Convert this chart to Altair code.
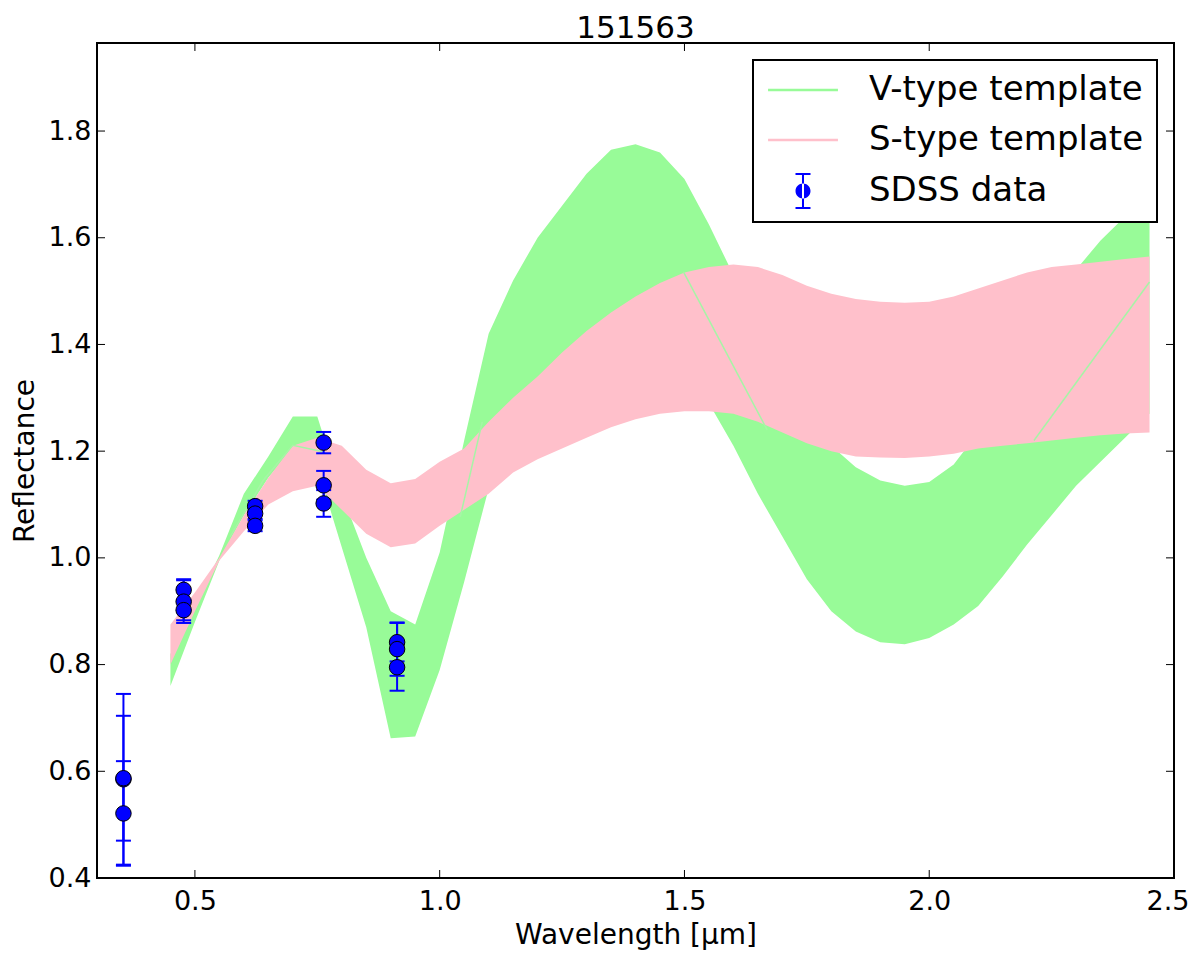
import altair as alt
import pandas as pd

# template wavelength grid [micron]
wl = [0.45, 0.50, 0.55, 0.60, 0.65, 0.70, 0.75, 0.80, 0.85, 0.90,
      0.95, 1.00, 1.05, 1.10, 1.15, 1.20, 1.25, 1.30, 1.35, 1.40,
      1.45, 1.50, 1.55, 1.60, 1.65, 1.70, 1.75, 1.80, 1.85, 1.90,
      1.95, 2.00, 2.05, 2.10, 2.15, 2.20, 2.25, 2.30, 2.35, 2.40, 2.45]

# V-type template band (lower / upper edge)
v_lo = [0.76, 0.88, 0.995, 1.08, 1.15, 1.205, 1.17, 1.02, 0.87, 0.662,
        0.665, 0.79, 0.955, 1.13, 1.20, 1.27, 1.31, 1.34, 1.36, 1.37,
        1.36, 1.33, 1.29, 1.21, 1.12, 1.04, 0.96, 0.90, 0.862, 0.842,
        0.838, 0.85, 0.875, 0.91, 0.965, 1.025, 1.08, 1.135, 1.18, 1.225, 1.27]
v_hi = [0.82, 0.91, 1.005, 1.12, 1.19, 1.265, 1.265, 1.12, 1.00, 0.90,
        0.875, 1.01, 1.22, 1.42, 1.52, 1.60, 1.66, 1.72, 1.765, 1.775,
        1.76, 1.71, 1.625, 1.53, 1.43, 1.34, 1.27, 1.21, 1.17, 1.145,
        1.135, 1.142, 1.175, 1.235, 1.30, 1.38, 1.46, 1.54, 1.595, 1.64, 1.68]

# S-type template band (lower / upper edge)
s_lo = [0.80, 0.90, 0.995, 1.05, 1.10, 1.125, 1.135, 1.09, 1.045, 1.02,
        1.027, 1.06, 1.09, 1.12, 1.16, 1.185, 1.205, 1.225, 1.245, 1.26,
        1.27, 1.275, 1.275, 1.27, 1.255, 1.235, 1.215, 1.20, 1.19, 1.188,
        1.187, 1.19, 1.195, 1.205, 1.21, 1.215, 1.22, 1.225, 1.23, 1.233, 1.235]
s_hi = [0.875, 0.935, 1.0, 1.08, 1.15, 1.21, 1.225, 1.21, 1.165, 1.14,
        1.148, 1.18, 1.205, 1.255, 1.30, 1.34, 1.385, 1.425, 1.46, 1.49,
        1.515, 1.535, 1.545, 1.55, 1.545, 1.53, 1.51, 1.495, 1.485, 1.48,
        1.478, 1.48, 1.49, 1.505, 1.52, 1.535, 1.545, 1.55, 1.555, 1.56, 1.565]

# SDSS photometry, three observations per filter
sdss_wl = [0.354, 0.354, 0.354, 0.477, 0.477, 0.477, 0.623, 0.623, 0.623,
           0.763, 0.763, 0.763, 0.913, 0.913, 0.913]
sdss_refl = [0.585, 0.587, 0.521, 0.940, 0.918, 0.902, 1.097, 1.083, 1.060,
             1.216, 1.136, 1.102, 0.842, 0.829, 0.795]
sdss_err = [0.160, 0.117, 0.098, 0.020, 0.040, 0.019, 0.010, 0.010, 0.010,
            0.020, 0.027, 0.025, 0.036, 0.050, 0.044]

# thin green seams showing through the pink band
seam_id = [1, 1, 1, 1, 2, 2, 3, 3, 4, 4]
seam_wl = [0.572, 0.64, 0.70, 0.762, 1.042, 1.087, 1.498, 1.669, 2.214, 2.45]
seam_refl = [1.04, 1.146, 1.211, 1.199, 1.077, 1.255, 1.536, 1.24, 1.22, 1.517]

x_ticks = [0.5, 1.0, 1.5, 2.0, 2.5]
y_ticks = [0.4, 0.6, 0.8, 1.0, 1.2, 1.4, 1.6, 1.8]

series = ["V-type template", "S-type template", "SDSS data"]
series_colors = ["#98fb98", "#ffc0cb", "#0000ff"]

FONT = "DejaVu Sans"
W, H = 1077, 835
TICK = 8

templ = pd.DataFrame({"wl": wl, "v_lo": v_lo, "v_hi": v_hi, "s_lo": s_lo, "s_hi": s_hi})
sdss = pd.DataFrame({"wl": sdss_wl, "refl": sdss_refl, "err": sdss_err})
sdss["lo"] = sdss["refl"] - sdss["err"]
sdss["hi"] = sdss["refl"] + sdss["err"]
seams = pd.DataFrame({"seg": seam_id, "wl": seam_wl, "refl": seam_refl})
xt = pd.DataFrame({"v": x_ticks})
yt = pd.DataFrame({"v": y_ticks})

xs = alt.Scale(domain=[0.3, 2.5], nice=False, zero=False)
ys = alt.Scale(domain=[0.4, 1.965], nice=False, zero=False)

# last x label sits on the frame corner: flush it, pushed outward a little
x_axis = alt.Axis(values=x_ticks, format=".1f", tickSize=0, domain=False, grid=False,
                  labelPadding=10, labelFontSize=27, labelFlush=True, labelFlushOffset=15,
                  labelOverlap=False, labelColor="black", title="Wavelength [μm]",
                  titleFontSize=28, titleFontWeight="normal", titleColor="black",
                  titlePadding=7)
y_axis = alt.Axis(values=y_ticks, format=".1f", tickSize=0, domain=False, grid=False,
                  labelPadding=6, labelFontSize=27, labelFlush=False, labelOverlap=False,
                  labelColor="black", title="Reflectance", titleFontSize=28,
                  titleFontWeight="normal", titleColor="black", titlePadding=9)


def X(field):
    return alt.X(field, type="quantitative", scale=xs, axis=x_axis)


def Y(field):
    return alt.Y(field, type="quantitative", scale=ys, axis=y_axis)


green = alt.Chart(templ).mark_area(color=series_colors[0], opacity=1, clip=True).encode(
    x=X("wl"), y=Y("v_lo"), y2="v_hi:Q",
)

pink = alt.Chart(templ).mark_area(color=series_colors[1], opacity=1, clip=True).encode(
    x=X("wl"), y=Y("s_lo"), y2="s_hi:Q",
)

seam = alt.Chart(seams).mark_line(color="#a6f5a6", strokeWidth=1.5, clip=True).encode(
    x=X("wl"), y=Y("refl"), detail="seg:N",
)

bars = alt.Chart(sdss).mark_rule(color="#0000ff", strokeWidth=2, clip=True).encode(
    x=X("wl"), y=Y("lo"), y2="hi:Q",
)

cap_lo = alt.Chart(sdss).mark_point(shape="M-1,0H1", size=225, filled=False, color="#0000ff",
                                    strokeWidth=2, opacity=1, clip=True).encode(
    x=X("wl"), y=Y("lo"),
)
cap_hi = cap_lo.encode(x=X("wl"), y=Y("hi"))

dots = alt.Chart(sdss).mark_circle(size=240, color="#0000ff", opacity=1, stroke="black",
                                   strokeWidth=1, clip=True).encode(
    x=X("wl"), y=Y("refl"),
)

# inward ticks on all four sides, like the matplotlib frame
tick_style = dict(color="black", strokeWidth=1)
t_bottom = alt.Chart(xt).mark_rule(**tick_style).encode(
    x=X("v"), y=alt.value(H), y2=alt.value(H - TICK))
t_top = alt.Chart(xt).mark_rule(**tick_style).encode(
    x=X("v"), y=alt.value(0), y2=alt.value(TICK))
t_left = alt.Chart(yt).mark_rule(**tick_style).encode(
    y=Y("v"), x=alt.value(0), x2=alt.value(TICK))
t_right = alt.Chart(yt).mark_rule(**tick_style).encode(
    y=Y("v"), x=alt.value(W), x2=alt.value(W - TICK))

# legend: line symbols for the templates, marker with error bar for the data
LINE = "M-2.33,-0.09H2.33V0.09H-2.33Z"
DOT = ("M-0.5,0A0.5,0.5 0 1 0 0.5,0A0.5,0.5 0 1 0 -0.5,0Z"
       "M-0.067,-1.13H0.067V1.13H-0.067Z"
       "M-0.5,-1.2H0.5V-1.07H-0.5Z"
       "M-0.5,1.07H0.5V1.2H-0.5Z")
legend = alt.Legend(
    title=None, orient="none", legendX=656, legendY=17, padding=13,
    labelFont=FONT, labelFontSize=34, labelColor="black", labelLimit=500,
    labelOffset=49, symbolOffset=20, symbolSize=900, symbolStrokeWidth=0,
    symbolOpacity=1, strokeColor="black", fillColor="white",
)
leg = alt.Chart(pd.DataFrame({"series": series})).mark_point(filled=True, opacity=0).encode(
    color=alt.Color("series:N", scale=alt.Scale(domain=series, range=series_colors), legend=legend),
    shape=alt.Shape("series:N", scale=alt.Scale(domain=series, range=[LINE, LINE, DOT]), legend=legend),
)

chart = alt.layer(
    green, pink, seam, bars, cap_lo, cap_hi, dots, t_bottom, t_top, t_left, t_right, leg
).properties(
    width=W,
    height=H,
    title=alt.TitleParams("151563", fontSize=31, font=FONT, fontWeight="normal",
                          color="black", anchor="middle", offset=-2),
    autosize=alt.AutoSizeParams(type="none"),
    padding={"left": 89, "top": 35, "right": 18, "bottom": 72},
).configure(
    font=FONT,
).configure_view(
    stroke="black", strokeWidth=2,
).configure_axis(
    labelFont=FONT, titleFont=FONT,
).configure_legend(
    rowPadding=16, strokeWidth=2,
)

chart.save("out.html", embed_options={"renderer": "svg", "actions": False})
